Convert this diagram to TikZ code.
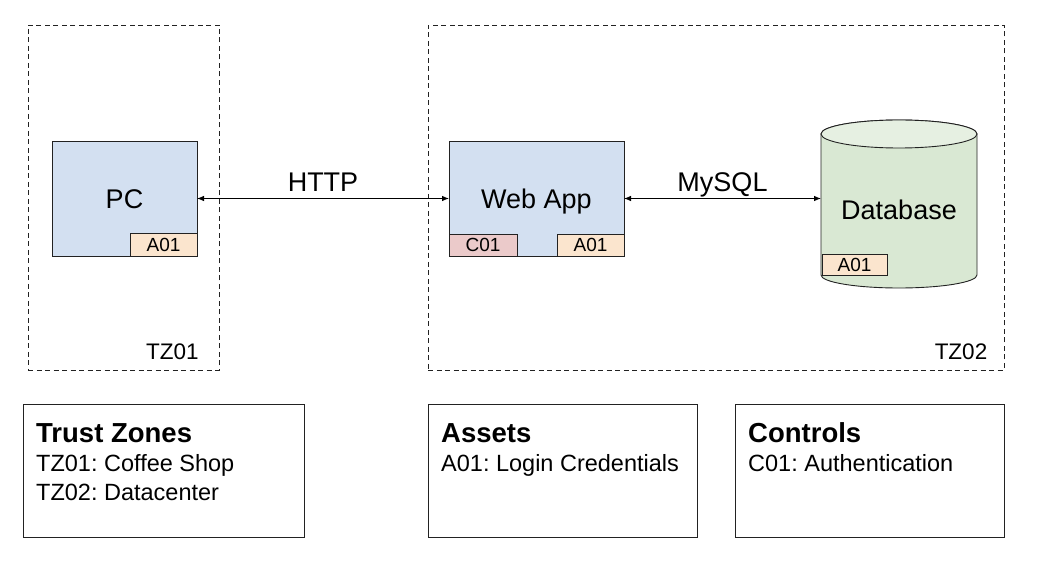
\documentclass[tikz,border=0pt]{standalone}
\usepackage{fontspec}
\setmainfont{Liberation Sans}
\usetikzlibrary{arrows.meta}
\definecolor{compblue}{HTML}{D3E0F1}
\definecolor{dbgreen}{HTML}{D9E8D3}
\definecolor{dbtop}{HTML}{E6F0E2}
\definecolor{assetorange}{HTML}{FBE5CE}
\definecolor{ctrlred}{HTML}{EBCACA}
\definecolor{linegray}{HTML}{222222}
\frenchspacing
\begin{document}
\begin{tikzpicture}[x=1pt,y=1pt,
  capc/.style={text depth=0pt, inner sep=0pt, outer sep=0pt},
  zone/.style={draw=linegray, line width=0.9pt, dash pattern=on 5pt off 3.5pt},
  comp/.style={capc, text height=19.3pt, draw=linegray, line width=0.9pt, fill=compblue, font=\fontsize{27}{31}\selectfont},
  tag/.style={capc, text height=13.6pt, draw=linegray, line width=0.9pt, font=\fontsize{19}{22}\selectfont},
  biglbl/.style={capc, text height=19.3pt, font=\fontsize{27}{31}\selectfont},
  zonelbl/.style={capc, text height=16.1pt, font=\fontsize{22.5}{26}\selectfont},
  legbox/.style={draw=linegray, line width=0.9pt, inner sep=0pt, outer sep=0pt},
  leghead/.style={anchor=base west, inner sep=0pt, font=\fontsize{27.5}{31}\selectfont\bfseries},
  legline/.style={anchor=base west, inner sep=0pt, font=\fontsize{23.5}{27}\selectfont},
  conn/.style={draw=black, line width=0.8pt, {Latex[length=7pt,width=5.5pt]}-{Latex[length=7pt,width=5.5pt]}}
]
\useasboundingbox (0,0) rectangle (1042,563);

% trust zones
\node[zone, inner sep=0pt, minimum width=191pt, minimum height=345pt] (tz1) at (123.5,365.5) {};
\node[zone, inner sep=0pt, minimum width=576pt, minimum height=345pt] (tz2) at (716,365.5) {};
\node[zonelbl] (tz1lbl) at (172.5,211.5) {TZ01};
\node[zonelbl] (tz2lbl) at (961,211.5) {TZ02};

% PC
\node[comp, minimum width=145pt, minimum height=115pt] (pc) at (124.5,364.5) {PC};
\node[tag, fill=assetorange, minimum width=67pt, minimum height=23pt] (pcA) at (163.5,318.5) {A01};

% Web App
\node[comp, minimum width=175pt, minimum height=115pt] (web) at (536.5,364.5) {Web App};
\node[tag, fill=ctrlred, minimum width=68pt, minimum height=22pt] (webC) at (483,318) {C01};
\node[tag, fill=assetorange, minimum width=67pt, minimum height=22pt] (webA) at (590.5,318) {A01};

% Database cylinder
\node[inner sep=0pt, outer sep=0pt, minimum width=156pt, minimum height=168pt] (db) at (899,359) {};
\draw[draw=linegray, line width=0.9pt, fill=dbgreen]
  (821,429) -- (821,288) arc[start angle=180, end angle=360, x radius=78pt, y radius=13pt]
  -- (977,429) arc[start angle=0, end angle=180, x radius=78pt, y radius=14pt] -- cycle;
\draw[draw=linegray, line width=0.9pt, fill=dbtop] (899,429) ellipse[x radius=78pt, y radius=14pt];
\node[biglbl] (dblbl) at (899,353) {Database};
\node[tag, fill=assetorange, minimum width=65pt, minimum height=21pt] (dbA) at (854.5,298.5) {A01};

% connectors
\draw[conn] (pc.east) -- (web.west) node[midway, above=7pt, biglbl] (http) {HTTP};
\draw[conn] (web.east) -- (web.east -| db.west) node[midway, above=7pt, biglbl] (mysql) {MySQL};

% legend
\node[legbox, minimum width=281pt, minimum height=133pt] (leg1) at (163.5,92.5) {};
\node[legbox, minimum width=269pt, minimum height=133pt] (leg2) at (562.5,92.5) {};
\node[legbox, minimum width=269pt, minimum height=133pt] (leg3) at (869.5,92.5) {};

\node[leghead] (l1h) at (36,121) {Trust Zones};
\node[legline] (l1a) at (36,92) {TZ01: Coffee Shop};
\node[legline] (l1b) at (36,63) {TZ02: Datacenter};

\node[leghead] (l2h) at (441,121) {Assets};
\node[legline] (l2a) at (441,92) {A01: Login Credentials};

\node[leghead] (l3h) at (748,121) {Controls};
\node[legline] (l3a) at (748,92) {C01: Authentication};
\end{tikzpicture}
\end{document}
